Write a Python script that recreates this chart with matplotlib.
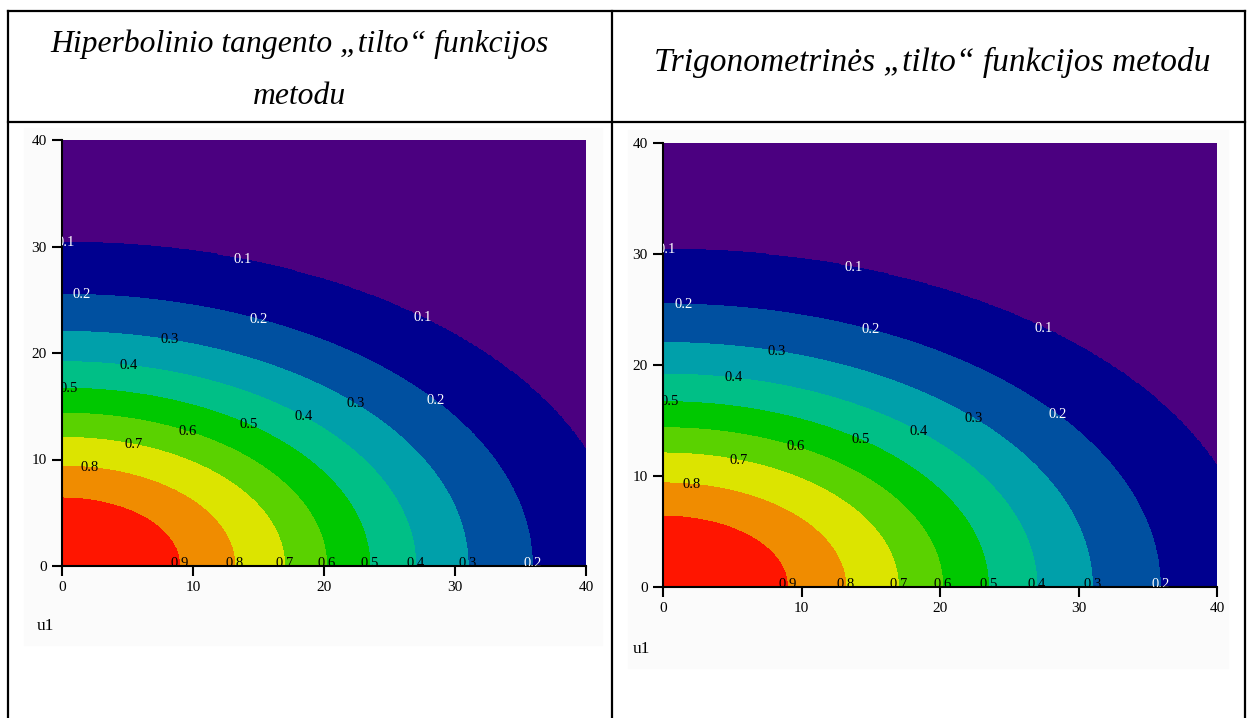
import numpy as np
import matplotlib.pyplot as plt
from matplotlib.colors import ListedColormap
from matplotlib.lines import Line2D
from matplotlib.patches import Rectangle

# contour levels and fill colours, lowest band first
levels = [0.0, 0.1, 0.2, 0.3, 0.4, 0.5, 0.6, 0.7, 0.8, 0.9, 1.0]
band_colors = ['#4b0080', '#00008f', '#0050a0', '#00a0aa', '#00bf86',
               '#00c800', '#5ad200', '#dce400', '#f08c00', '#ff1500']

# value of the field and where each level meets the u1 axis / vertical axis
level_values = [1.0, 0.9, 0.8, 0.7, 0.6, 0.5, 0.4, 0.3, 0.2, 0.1]
x_crossings = [0.0, 9.0, 13.2, 17.0, 20.2, 23.5, 27.0, 31.0, 35.9, 42.9]
y_crossings = [0.0, 6.4, 9.4, 12.0, 14.3, 16.8, 19.2, 22.0, 25.5, 30.5]

label_levels = [0.1, 0.2, 0.3, 0.4, 0.5, 0.6, 0.7, 0.8, 0.9]
label_colors = ['white', 'white', 'black', 'black', 'black',
                'black', 'black', 'black', 'black']

ticks = [0, 10, 20, 30, 40]

titles_left = ['Hiperbolinio tangento \u201etilto\u201c funkcijos', 'metodu']
title_right = 'Trigonometrin\u0117s \u201etilto\u201c funkcijos metodu'

# label placements (u1, u2) along the contours
label_spots = [
    (0.3, 30.5), (13.8, 28.8), (27.5, 23.0),
    (1.5, 25.4), (15.0, 23.2), (28.5, 15.5), (35.9, 0.2),
    (8.2, 21.2), (22.4, 15.2), (31.0, 0.2),
    (5.1, 18.9), (18.5, 14.2), (27.0, 0.2),
    (0.5, 16.7), (14.3, 13.3), (23.5, 0.2),
    (9.6, 12.6), (20.2, 0.2),
    (5.4, 11.2), (16.9, 0.2),
    (2.1, 9.3), (13.3, 0.2),
    (9.1, 0.2),
]


def build_field():
    u = np.linspace(0, 40, 401)
    U1, U2 = np.meshgrid(u, u)
    ratios = np.array(y_crossings[1:]) / np.array(x_crossings[1:])
    aspect = ratios.mean()
    r = np.sqrt(U1 ** 2 + (U2 / aspect) ** 2)
    Z = np.interp(r, x_crossings, level_values, right=0.0)
    return U1, U2, Z


def draw_panel(ax, U1, U2, Z):
    cmap = ListedColormap(band_colors)
    ax.contourf(U1, U2, Z, levels=levels, cmap=cmap)
    cs = ax.contour(U1, U2, Z, levels=label_levels, colors='none')
    ax.clabel(cs, manual=label_spots, inline=False, fmt='%.1f',
              fontsize=10.5, colors=label_colors)
    for t in cs.labelTexts:
        t.set_rotation(0)
        t.set_clip_on(True)
        t.set_clip_box(ax.bbox)
        t.set_family('Liberation Serif')

    ax.set_xlim(0, 40)
    ax.set_ylim(0, 40)
    ax.set_xticks(ticks)
    ax.set_yticks(ticks)
    ax.spines['top'].set_visible(False)
    ax.spines['right'].set_visible(False)
    for side in ['left', 'bottom']:
        ax.spines[side].set_linewidth(1.5)
    ax.tick_params(direction='out', length=7, width=1.5, labelsize=11, pad=4)
    for lab in ax.get_xticklabels() + ax.get_yticklabels():
        lab.set_family('Liberation Serif')


def main():
    fig = plt.figure(figsize=(12.5, 7.18), dpi=100)

    # faint backdrop of the pasted plots
    fig.add_artist(Rectangle((24 / 1250, 1 - 645 / 718), 578 / 1250, 517 / 718,
                             transform=fig.transFigure, color='#fbfbfb', zorder=0))
    fig.add_artist(Rectangle((628 / 1250, 1 - 668 / 718), 600 / 1250, 538 / 718,
                             transform=fig.transFigure, color='#fbfbfb', zorder=0))

    U1, U2, Z = build_field()

    ax_left = fig.add_axes([62 / 1250, 1 - 566 / 718, 524 / 1250, 426 / 718])
    ax_right = fig.add_axes([663 / 1250, 1 - 587 / 718, 554 / 1250, 444 / 718])
    draw_panel(ax_left, U1, U2, Z)
    draw_panel(ax_right, U1, U2, Z)

    fig.text(45 / 1250, 1 - 626 / 718, 'u1', family='Liberation Serif',
             fontsize=12.5, ha='center', va='center')
    fig.text(641 / 1250, 1 - 649 / 718, 'u1', family='Liberation Serif',
             fontsize=12.5, ha='center', va='center')

    # table grid
    lw = 1.6
    top = 1 - 11 / 718
    head = 1 - 122 / 718
    x_l, x_m, x_r = 8 / 1250, 612 / 1250, 1245 / 1250
    fig.add_artist(Line2D([x_l, x_r], [top, top], color='black', lw=lw))
    fig.add_artist(Line2D([x_l, x_r], [head, head], color='black', lw=lw))
    for xv in [x_l, x_m, x_r]:
        fig.add_artist(Line2D([xv, xv], [0, top], color='black', lw=lw))

    for line, ypix in zip(titles_left, [44, 97]):
        fig.text(299 / 1250, 1 - ypix / 718, line, family='Liberation Serif',
                 style='italic', fontsize=22.8, ha='center', va='center')
    fig.text(932 / 1250, 1 - 62 / 718, title_right, family='Liberation Serif',
             style='italic', fontsize=24, ha='center', va='center')

    fig.savefig('out.png', dpi=100)


if __name__ == '__main__':
    main()
